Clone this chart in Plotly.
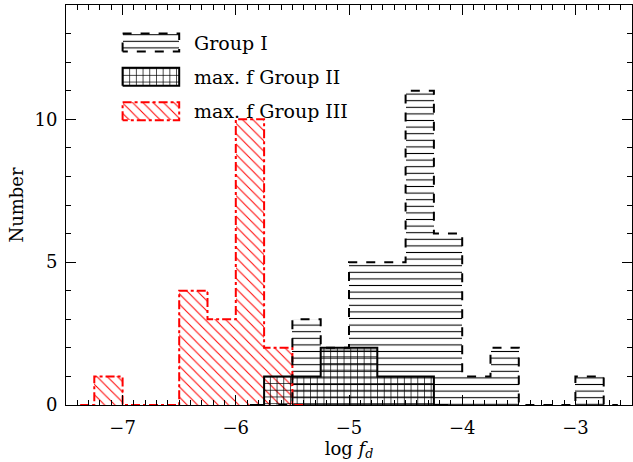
import plotly.graph_objects as go

# ---- data (bin centers in log f_d, bin width 0.25) ----
bin_width = 0.25
g1_centers = [-5.625, -5.375, -5.125, -4.875, -4.625, -4.375, -4.125, -3.875, -3.625, -3.375, -3.125, -2.875, -2.625]
g1_counts = [0, 3, 2, 5, 5, 11, 6, 1, 2, 0, 0, 1, 0]
g2_centers = [-5.875, -5.625, -5.375, -5.125, -4.875, -4.625, -4.375, -4.125]
g2_counts = [0, 1, 1, 2, 2, 1, 1, 0]
g3_centers = [-7.375, -7.125, -6.875, -6.625, -6.375, -6.125, -5.875, -5.625, -5.375]
g3_counts = [0, 1, 0, 0, 4, 3, 10, 2, 0]
labels = ["Group I", "max. f Group II", "max. f Group III"]

FONT = "DejaVu Serif"
RED = "#ff0000"

styles = [
    dict(color="black", dash="dash", shape="-", size=6.6, solidity=0.16),
    dict(color="black", dash="solid", shape="+", size=6.7, solidity=0.2),
    dict(color=RED, dash="dashdot", shape="\\", size=7.3, solidity=0.14),
]
series = [(g1_centers, g1_counts), (g2_centers, g2_counts), (g3_centers, g3_counts)]


def step_outline(c, y, w):
    xs = [c[0]] + [ci - w / 2 for ci in c[1:]] + [c[-1]]
    ys = list(y) + [y[-1]]
    return xs, ys


fig = go.Figure()

# draw order: group III, group I, group II
for idx in [2, 0, 1]:
    c, y = series[idx]
    st = styles[idx]
    fig.add_trace(go.Bar(
        x=c, y=y, width=bin_width,
        marker=dict(color="rgba(0,0,0,0)", line=dict(width=0),
                    pattern=dict(shape=st["shape"], fgcolor=st["color"],
                                 bgcolor="rgba(0,0,0,0)", size=st["size"],
                                 solidity=st["solidity"], fillmode="replace")),
        showlegend=False, hoverinfo="skip"))
    xs, ys = step_outline(c, y, bin_width)
    fig.add_trace(go.Scatter(x=xs, y=ys, mode="lines", line_shape="hv",
                             line=dict(color=st["color"], width=2, dash=st["dash"]),
                             showlegend=False, hoverinfo="skip"))

# ---- custom legend (layout constants) ----
leg_x0, leg_x1 = -7.0, -6.5
leg_tops = [13.0, 11.8, 10.6]
leg_h = 0.63
leg_text_x = -6.39
for i, st in enumerate(styles):
    top = leg_tops[i]
    bot = top - leg_h
    fig.add_trace(go.Bar(
        x=[(leg_x0 + leg_x1) / 2], y=[leg_h], base=[bot], width=[leg_x1 - leg_x0],
        marker=dict(color="rgba(0,0,0,0)", line=dict(width=0),
                    pattern=dict(shape=st["shape"], fgcolor=st["color"],
                                 bgcolor="rgba(0,0,0,0)", size=st["size"],
                                 solidity=st["solidity"], fillmode="replace")),
        showlegend=False, hoverinfo="skip"))
    fig.add_trace(go.Scatter(
        x=[leg_x0, leg_x0, leg_x1, leg_x1, leg_x0],
        y=[bot, top, top, bot, bot], mode="lines",
        line=dict(color=st["color"], width=2, dash=st["dash"]),
        showlegend=False, hoverinfo="skip"))
    fig.add_annotation(x=leg_text_x, y=bot + leg_h / 2, text=labels[i],
                       showarrow=False, xanchor="left", yanchor="middle",
                       font=dict(family=FONT, size=19, color="black"))

axis_common = dict(showline=True, linecolor="black", linewidth=1, mirror="allticks",
                   ticks="inside", ticklen=10, tickwidth=1, tickcolor="black",
                   showgrid=False, zeroline=False,
                   tickfont=dict(family=FONT, size=18, color="black"))

fig.update_xaxes(range=[-7.5, -2.5], tickvals=[-7, -6, -5, -4, -3],
                 ticktext=["\u22127", "\u22126", "\u22125", "\u22124", "\u22123"],
                 ticklabelstandoff=6,
                 minor=dict(dtick=0.1, tick0=-7, ticks="inside", ticklen=5, tickcolor="black", showgrid=False),
                 title=dict(text="log <i>f</i><sub><i>d</i></sub>",
                            font=dict(family=FONT, size=18, color="black"), standoff=2),
                 **axis_common)
fig.update_yaxes(range=[0, 14], tickvals=[0, 5, 10], ticktext=["0", "5", "10"],
                 ticklabelstandoff=4,
                 minor=dict(dtick=1, tick0=0, ticks="inside", ticklen=5, tickcolor="black", showgrid=False),
                 title=dict(text="Number", font=dict(family=FONT, size=18, color="black"), standoff=6),
                 **axis_common)

fig.update_layout(width=633, height=462, barmode="overlay", bargap=0,
                  margin=dict(l=66, r=1, t=5, b=57),
                  plot_bgcolor="white", paper_bgcolor="white")

fig.write_html("out.html")
